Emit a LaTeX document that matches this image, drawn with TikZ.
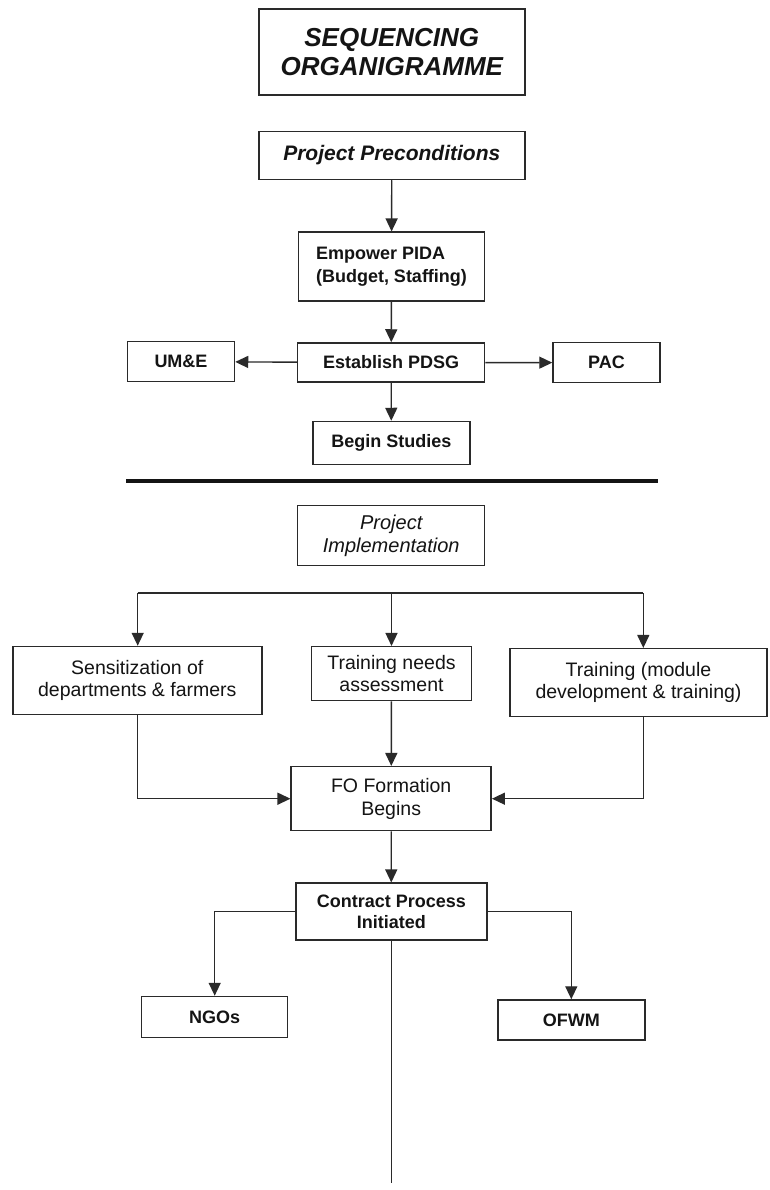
\documentclass[tikz,border=0pt]{standalone}
\usepackage{fontspec}
\setmainfont{Liberation Sans}
\usetikzlibrary{arrows.meta}
\definecolor{ink}{HTML}{141414}
\definecolor{edge}{HTML}{2A2A2A}
\begin{document}
\begin{tikzpicture}[x=1pt,y=-1pt,
  box/.style={draw=edge, line width=1.5pt, fill=white, inner sep=0pt, align=center, text=ink},
  bd/.style={font=\fontsize{18}{22.5}\selectfont\bfseries},
  rg/.style={font=\fontsize{19.5}{22.5}\selectfont},
  arr/.style={draw=edge, line width=1.4pt, -{Triangle[length=13pt,width=12pt]}},
  link/.style={draw=edge, line width=1.4pt}]

% page
\fill[white] (0,0) rectangle (769,1190);
\useasboundingbox (0,0) rectangle (769,1190);

% ---- preconditions block ----
\node[box, minimum width=266pt, minimum height=86pt,
      font=\fontsize{26}{29.5}\selectfont\bfseries\itshape] (title) at (391.8,52.2)
      {SEQUENCING\\ORGANIGRAMME};
\node[box, minimum width=266pt, minimum height=48pt,
      font=\fontsize{21}{24}\selectfont\bfseries\itshape] (pre) at (391.8,155.5)
      {Project Preconditions};
\node[box, bd, align=left, minimum width=186pt, minimum height=69pt] (emp) at (391.5,266.7)
      {Empower PIDA\\(Budget, Staffing)};
\node[box, bd, minimum width=187pt, minimum height=39pt] (est) at (391.2,362.5) {Establish PDSG};
\node[box, bd, minimum width=107pt, minimum height=40pt] (ume) at (181,361.7) {UM\&E};
\node[box, bd, minimum width=107pt, minimum height=40pt] (pac) at (606.5,362.7) {PAC};
\node[box, bd, minimum width=157pt, minimum height=43pt] (beg) at (391.3,443) {Begin Studies};

\draw[arr] (pre) -- (emp);
\draw[arr] (emp) -- (est);
\draw[arr] (est) -- (ume);
\draw[arr] (est) -- (pac);
\draw[arr] (est) -- (beg);

% separator rule
\coordinate (sepL) at (126,481);
\coordinate (sepR) at (658,481);
\draw[ink, line width=4pt] (sepL) -- (sepR);

% ---- implementation block ----
\node[box, minimum width=187pt, minimum height=60pt,
      font=\fontsize{20}{22.5}\selectfont\itshape] (impl) at (391.2,535.7)
      {Project\\Implementation};

\coordinate (busL) at (137.7,593);
\coordinate (busM) at (391.5,593);
\coordinate (busR) at (643.3,593);
\draw[link] (busL) -- (busR);

\node[box, rg, minimum width=249pt, minimum height=68pt] (sen) at (137.3,680.5)
      {Sensitization of\\departments \& farmers};
\node[box, rg, minimum width=160pt, minimum height=54pt] (tna) at (391.5,673.7)
      {Training needs\\assessment};
\node[box, rg, minimum width=257pt, minimum height=68pt] (trm) at (638.5,682.7)
      {Training (module\\development \& training)};

\draw[arr] (busL) -- (busL |- sen.north);
\draw[arr] (busM) -- (tna.north);
\draw[arr] (busR) -- (busR |- trm.north);

\node[box, rg, minimum width=200pt, minimum height=64pt] (fo) at (391.2,798.7)
      {FO Formation\\Begins};

\draw[arr] (sen.south -| busL) |- (fo.west);
\draw[arr] (tna) -- (fo);
\draw[arr] (trm.south -| busR) |- (fo.east);

\node[box, font=\fontsize{18}{21}\selectfont\bfseries, minimum width=191pt, minimum height=57pt]
      (con) at (391.3,911.7) {Contract Process\\Initiated};
\draw[arr] (fo) -- (con);

\node[box, bd, minimum width=146pt, minimum height=41pt] (ngo) at (214.7,1017) {NGOs};
\node[box, bd, minimum width=147pt, minimum height=40pt] (ofw) at (571.3,1020) {OFWM};

\draw[arr] (con.west) -| (ngo.north);
\draw[arr] (con.east) -| (ofw.north);

\coordinate (tail) at (391.3,1183);
\draw[link] (con.south) -- (tail);
\end{tikzpicture}
\end{document}
